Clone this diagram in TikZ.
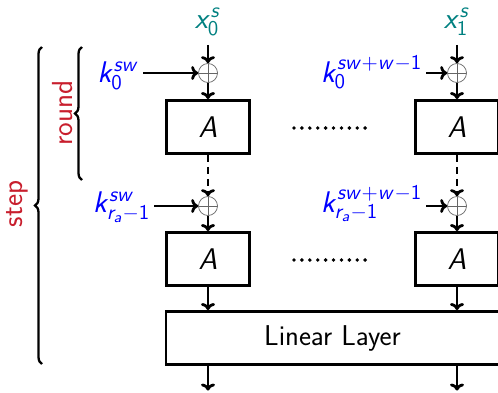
\RequirePackage{fix-cm}
\documentclass[tikz,border=0pt]{standalone}
\usetikzlibrary{arrows.meta,decorations.pathreplacing}
\DeclareMathAlphabet{\mathsfit}{OT1}{cmss}{m}{sl}
\definecolor{stepred}{RGB}{200,30,45}
\definecolor{inteal}{RGB}{0,128,128}
\tikzset{
  bigfont/.style = {font=\fontsize{17}{20}\selectfont},
  block/.style   = {rectangle, draw=black, line width=1.7pt,
                    minimum width=1.66cm, minimum height=1.06cm, bigfont},
  wide/.style    = {block, minimum width=6.66cm, font=\fontsize{16.3}{20}\selectfont\sffamily},
  xorgate/.style = {circle, draw=black!60, thin, minimum size=0.38cm, inner sep=0pt,
                    path picture={\draw[black!60] (path picture bounding box.north) -- (path picture bounding box.south)
                                  (path picture bounding box.west) -- (path picture bounding box.east);}},
  keylbl/.style  = {text=blue, bigfont, inner sep=2pt, anchor=base east},
  inlbl/.style   = {text=inteal, bigfont, inner sep=5pt},
  sidelbl/.style = {text=stepred, font=\fontsize{16.5}{20}\selectfont\sffamily, rotate=90},
  flow/.style    = {-{To[length=1.4mm,width=2.8mm]}, line width=1.6pt},
  dflow/.style   = {flow, dash pattern=on 1.4mm off 1mm},
  brc/.style     = {decorate, decoration={brace, amplitude=0.14cm}, line width=1.3pt},
  dotrow/.style  = {line width=2.2pt, line cap=round, dash pattern=on 0pt off 4.5pt},
}
\begin{document}
\begin{tikzpicture}
      \useasboundingbox (0,0) rectangle (9.96,7.84);

      \node[inlbl] (x0) at (4.16, 7.40) {$\mathsfit{x}_{\mathsf{0}}^{\mathsfit{s}}$};
      \node[inlbl] (x1) at (9.14, 7.40) {$\mathsfit{x}_{\mathsf{1}}^{\mathsfit{s}}$};

      \node[xorgate] (xa0) at (4.16, 6.38) {};
      \node[xorgate] (xa1) at (9.14, 6.38) {};
      \node[keylbl]  (k0)  at (2.86, 6.20) {$\mathsfit{k}_{\mathsf{0}}^{\mathsfit{sw}}$};
      \node[keylbl]  (k1)  at (8.52, 6.20) {$\mathsfit{k}_{\mathsf{0}}^{\mathsfit{sw}+\mathsfit{w}-\mathsf{1}}$};

      \node[block] (a0) at (4.16, 5.30) {$\mathsfit{A}$};
      \node[block] (a1) at (9.14, 5.30) {$\mathsfit{A}$};

      \node[xorgate] (xb0) at (4.16, 3.72) {};
      \node[xorgate] (xb1) at (9.14, 3.72) {};
      \node[keylbl]  (kr0) at (3.08, 3.60) {$\mathsfit{k}_{\mathsfit{r}_{\mathsfit{a}}-\mathsf{1}}^{\mathsfit{sw}}$};
      \node[keylbl]  (kr1) at (8.52, 3.60) {$\mathsfit{k}_{\mathsfit{r}_{\mathsfit{a}}-\mathsf{1}}^{\mathsfit{sw}+\mathsfit{w}-\mathsf{1}}$};

      \node[block] (b0) at (4.16, 2.66) {$\mathsfit{A}$};
      \node[block] (b1) at (9.14, 2.66) {$\mathsfit{A}$};

      \node[wide] (lin) at (6.65, 1.08) {Linear Layer};
      \coordinate (out0) at (4.16, 0.03);
      \coordinate (out1) at (9.14, 0.03);

      \coordinate (da0) at (5.88, 5.28);
      \coordinate (da1) at (7.32, 5.28);
      \coordinate (db0) at (5.88, 2.64);
      \coordinate (db1) at (7.32, 2.64);
      \draw[dotrow] (da0) -- (da1);
      \draw[dotrow] (db0) -- (db1);

      \draw[flow] (x0) -- (xa0);
      \draw[flow] (x1) -- (xa1);
      \draw[flow] (k0.east |- xa0) -- (xa0);
      \draw[flow] (k1.east |- xa1) -- (xa1);
      \draw[flow] (xa0) -- (a0);
      \draw[flow] (xa1) -- (a1);
      \draw[dflow] (a0) -- (xb0);
      \draw[dflow] (a1) -- (xb1);
      \draw[flow] (kr0.east |- xb0) -- (xb0);
      \draw[flow] (kr1.east |- xb1) -- (xb1);
      \draw[flow] (xb0) -- (b0);
      \draw[flow] (xb1) -- (b1);
      \draw[flow] (b0) -- (b0 |- lin.north);
      \draw[flow] (b1) -- (b1 |- lin.north);
      \draw[flow] (lin.south -| out0) -- (out0);
      \draw[flow] (lin.south -| out1) -- (out1);

      \coordinate (rb) at (1.64, 4.24);
      \coordinate (rt) at (1.64, 6.90);
      \coordinate (sb) at (0.84, 0.56);
      \coordinate (st) at (0.84, 6.90);
      \draw[brc] (rb) -- (rt);
      \draw[brc] (sb) -- (st);
      \node[sidelbl] (rnd)  at (1.26, 5.58) {round};
      \node[sidelbl] (stp)  at (0.34, 3.76) {step};
    \end{tikzpicture}
\end{document}
